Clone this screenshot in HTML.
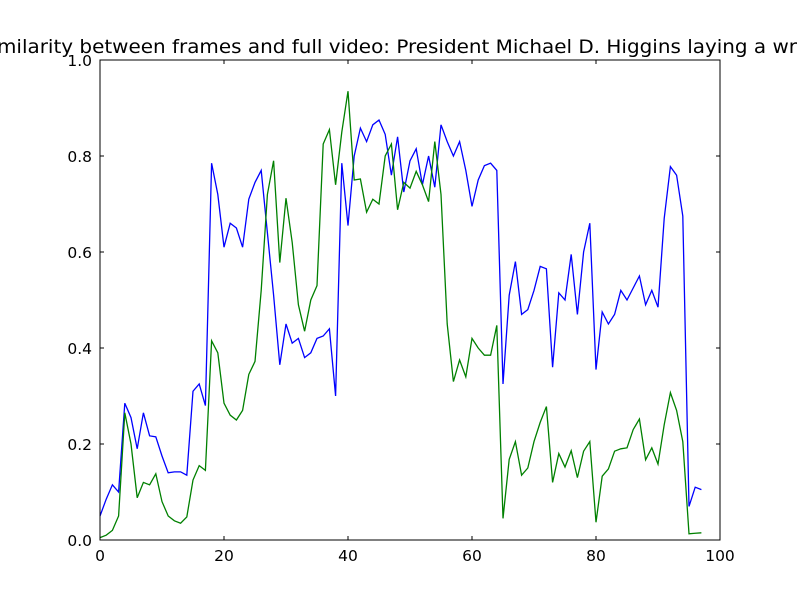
<!DOCTYPE html>
<html><head><meta charset="utf-8"><style>
body{margin:0;background:#fff;}
svg{display:block;font-family:"DejaVu Sans","Liberation Sans",sans-serif;}
</style></head><body>
<svg id="chart" width="800" height="600">
<rect width="800" height="600" fill="#fff"/>
<text x="397" y="53" text-anchor="middle" font-size="19" textLength="800" lengthAdjust="spacingAndGlyphs">milarity between frames and full video: President Michael D. Higgins laying a wr</text>
<g id="axes"></g>
<g id="series"></g>
<rect x="100" y="60" width="620" height="480" fill="none" stroke="#000" stroke-width="1"/>
</svg>
<script>
const xTicks=[0,20,40,60,80,100];
const yTicks=[0.0,0.2,0.4,0.6,0.8,1.0];
const blueValues=[0.05,0.085,0.115,0.10,0.285,0.255,0.19,0.265,0.217,0.215,0.175,0.14,0.142,0.142,0.135,0.31,0.325,0.28,0.785,0.72,0.61,0.66,0.65,0.61,0.71,0.745,0.77,0.64,0.51,0.365,0.45,0.41,0.42,0.38,0.39,0.42,0.425,0.44,0.30,0.785,0.655,0.80,0.858,0.83,0.865,0.875,0.845,0.76,0.84,0.725,0.79,0.815,0.74,0.80,0.735,0.865,0.83,0.80,0.83,0.77,0.695,0.75,0.78,0.785,0.77,0.325,0.51,0.58,0.47,0.48,0.52,0.57,0.565,0.36,0.515,0.50,0.595,0.47,0.60,0.66,0.355,0.475,0.45,0.47,0.52,0.50,0.525,0.55,0.49,0.52,0.485,0.67,0.778,0.76,0.675,0.07,0.11,0.105];
const greenValues=[0.005,0.01,0.02,0.05,0.265,0.20,0.088,0.12,0.115,0.138,0.08,0.05,0.04,0.035,0.048,0.125,0.155,0.145,0.415,0.39,0.285,0.26,0.25,0.27,0.345,0.372,0.52,0.72,0.79,0.578,0.712,0.62,0.49,0.435,0.5,0.53,0.825,0.855,0.74,0.85,0.935,0.75,0.752,0.683,0.71,0.70,0.80,0.825,0.688,0.745,0.733,0.768,0.74,0.705,0.83,0.72,0.45,0.33,0.375,0.34,0.42,0.40,0.385,0.385,0.447,0.045,0.168,0.205,0.135,0.15,0.205,0.245,0.278,0.12,0.18,0.152,0.186,0.13,0.185,0.205,0.037,0.133,0.148,0.185,0.19,0.192,0.23,0.252,0.167,0.192,0.158,0.24,0.307,0.27,0.205,0.013,0.014,0.015];

const NS="http://www.w3.org/2000/svg";
const X0=100,X1=720,Y0=540,Y1=60;
function xs(v){return X0+(v-0)/(100-0)*(X1-X0);}
function ys(v){return Y0-(v-0)/(1-0)*(Y0-Y1);}
const axes=document.getElementById('axes');
const series=document.getElementById('series');
function mk(tag,attrs){const e=document.createElementNS(NS,tag);for(const k in attrs)e.setAttribute(k,attrs[k]);return e;}

xTicks.forEach(t=>{
  const x=xs(t);
  const a=mk('line',{x1:x,x2:x,y1:Y0,y2:Y0-4,stroke:'#000'});
  
  
  axes.appendChild(a);
  const b=mk('line',{x1:x,x2:x,y1:Y1,y2:Y1+4,stroke:'#000'});
  
  
  axes.appendChild(b);
  const l=mk('text',{x:x,y:Y0+21,'text-anchor':'middle','font-size':'15.5'});
  l.textContent=String(t);
  
  
  axes.appendChild(l);
});
yTicks.forEach(t=>{
  const y=ys(t);
  const a=mk('line',{x1:X0,x2:X0+4,y1:y,y2:y,stroke:'#000'});
  
  
  axes.appendChild(a);
  const b=mk('line',{x1:X1,x2:X1-4,y1:y,y2:y,stroke:'#000'});
  
  
  axes.appendChild(b);
  const l=mk('text',{x:X0-8,y:y+6,'text-anchor':'end','font-size':'15.5'});
  l.textContent=t.toFixed(1);
  
  
  axes.appendChild(l);
});
function drawLine(vals,color,name){
  const pts=vals.map((v,i)=>xs(i).toFixed(2)+','+ys(v).toFixed(2)).join(' ');
  const p=mk('polyline',{points:pts,fill:'none',stroke:color,'stroke-width':'1.3','stroke-linejoin':'miter'});
  
  
  series.appendChild(p);
}
drawLine(blueValues,'#0000ff','blue-series-line');
drawLine(greenValues,'#008000','green-series-line');
</script>
</body></html>
